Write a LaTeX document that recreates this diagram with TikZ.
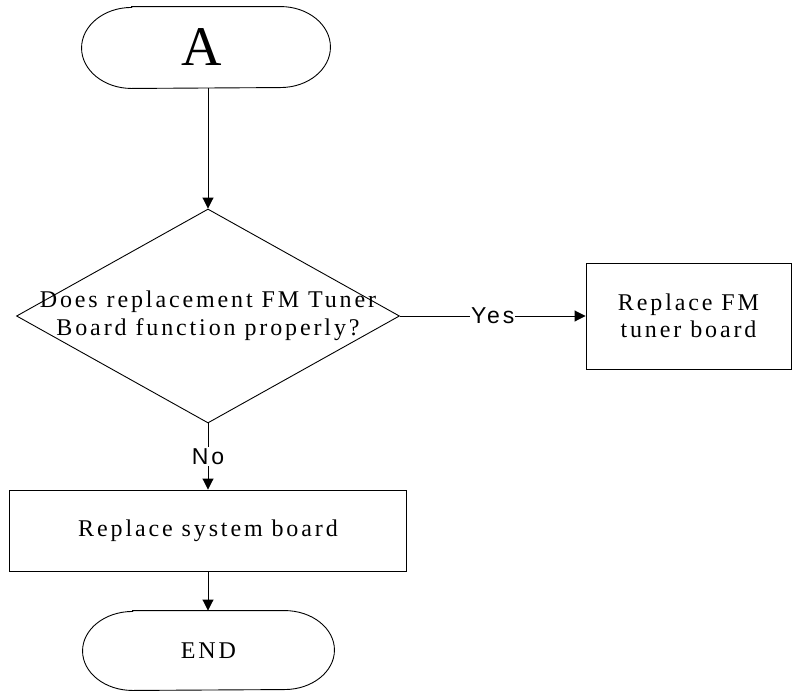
\documentclass[tikz,border=0pt]{standalone}
\usepackage{fontspec}
\setmainfont{Liberation Serif}
\newfontfamily\spc[LetterSpace=12]{Liberation Serif}
\newfontfamily\spcsans[LetterSpace=12]{Liberation Sans}
\usetikzlibrary{shapes.geometric,arrows.meta}
\newcommand\termoutline[1]{%
  \draw ([xshift=50pt]#1.north west) -- ([xshift=-50pt]#1.north east)
    arc[start angle=90,end angle=-90,x radius=50pt,y radius=0.5*\termh]
    -- ([xshift=50pt]#1.south west)
    arc[start angle=270,end angle=90,x radius=50pt,y radius=0.5*\termh] -- cycle;}
\begin{document}
\begin{tikzpicture}[x=1pt,y=-1pt,
  line width=0.9pt,
  term/.style={rectangle, inner sep=0pt},
  procbox/.style={draw, rectangle, inner sep=0pt, align=center, font=\spc\fontsize{24}{27}\selectfont},
  decide/.style={draw, diamond, inner sep=0pt, minimum width=383pt, minimum height=214pt},
  arr/.style={-{Triangle[length=11pt,width=11pt]}},
  lbl/.style={fill=white, inner sep=1pt, font=\spcsans\fontsize{23}{26}\selectfont}]
\useasboundingbox (0,0) rectangle (793,691);
\node[term, minimum width=248pt, minimum height=81pt] (a) at (206,47.5) {};
\def\termh{81pt}\termoutline{a}
\node[font=\fontsize{56}{60}\selectfont, inner sep=0pt] at ([xshift=-4pt]a.center) {A};
\node[decide, label={[align=center, font=\spc\fontsize{24}{28}\selectfont]center:Does replacement FM Tuner\\Board function properly?}] (q) at (208,316) {};
\node[procbox, minimum width=205pt, minimum height=106pt] (fm) at (688.5,316) {Replace FM\\tuner board};
\node[procbox, minimum width=397pt, minimum height=81pt] (sys) at (208,530.5) {Replace system board};
\node[term, minimum width=251pt, minimum height=79pt, font=\spc\fontsize{24}{27}\selectfont] (e) at (208.5,650.5) {END};
\def\termh{79pt}\termoutline{e}
\draw[arr] (a.south -| q.north) -- (q.north);
\draw[arr] (q.east) -- node[lbl] {Yes} (fm.west);
\draw[arr] (q.south) -- node[lbl] {No} (sys.north);
\draw[arr] (sys.south -| q.south) -- (e.north -| q.south);
\end{tikzpicture}
\end{document}
